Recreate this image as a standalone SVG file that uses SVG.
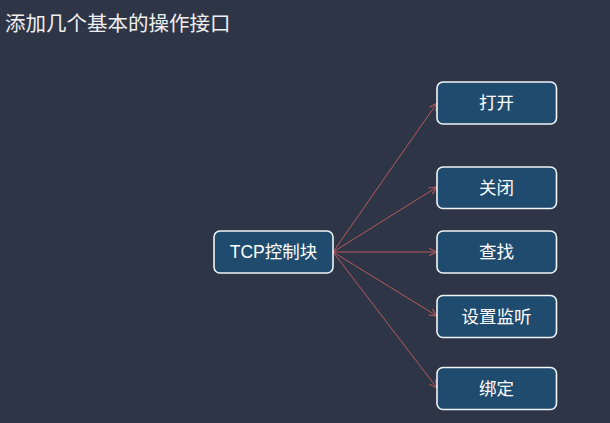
<svg xmlns="http://www.w3.org/2000/svg" width="610" height="423" viewBox="0 0 610 423">
<style>
.node rect{fill:#1f4b6e;stroke:#f2f4f6;stroke-width:1.6}
.node text{fill:#ffffff;font-family:"Liberation Sans","Noto Sans CJK SC",sans-serif;font-size:17.5px;text-anchor:middle;dominant-baseline:central}
.conn line{stroke:#b55a5e;stroke-width:1;marker-end:url(#arr)}
</style>
<defs>
<marker id="arr" viewBox="0 0 10 10" refX="9.5" refY="5" markerWidth="9" markerHeight="9" markerUnits="userSpaceOnUse" orient="auto">
<path d="M1,1 L9.5,5 L1,9" fill="none" stroke="#b55a5e" stroke-width="1.2"/>
</marker>
</defs>
<rect x="0" y="0" width="610" height="423" fill="#2e3547"/>
<text x="5" y="31" fill="#f0f0f0" font-family="'Noto Sans CJK SC',sans-serif" font-size="20.5">添加几个基本的操作接口</text>
<g class="conn">
<line x1="333" y1="252" x2="437" y2="103"/>
<line x1="333" y1="252" x2="437" y2="187"/>
<line x1="333" y1="252" x2="437" y2="252"/>
<line x1="333" y1="252" x2="437" y2="316"/>
<line x1="333" y1="252" x2="437" y2="388"/>
</g>
<g id="tcb" class="node"><rect x="214" y="231" width="119" height="42" rx="6"/><text x="273.5" y="252">TCP控制块</text></g>
<g id="open" class="node"><rect x="437" y="82" width="119.5" height="42" rx="6"/><text x="496.5" y="103">打开</text></g>
<g id="close" class="node"><rect x="437" y="167" width="119.5" height="41.5" rx="6"/><text x="496.5" y="187.5">关闭</text></g>
<g id="find" class="node"><rect x="437" y="231" width="119.5" height="42" rx="6"/><text x="496.5" y="252">查找</text></g>
<g id="listen" class="node"><rect x="437" y="295.5" width="119.5" height="42" rx="6"/><text x="496.5" y="316.5">设置监听</text></g>
<g id="bind" class="node"><rect x="437" y="367.5" width="119.5" height="42" rx="6"/><text x="496.5" y="388.5">绑定</text></g>
</svg>
